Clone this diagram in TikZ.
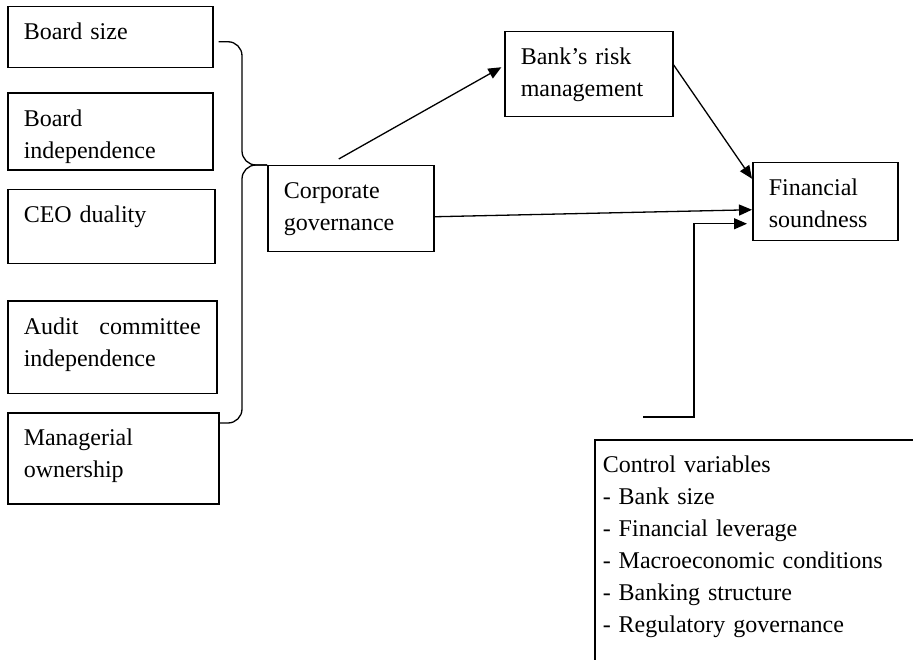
\documentclass[tikz,border=0pt]{standalone}
\usepackage{fontspec}
\setmainfont{Liberation Serif}
\usepackage{tikz}
\usetikzlibrary{arrows.meta,positioning}

\begin{document}
\begin{tikzpicture}[
  x=1pt, y=-1pt,
  font=\fontsize{24}{32}\selectfont,
  box/.style={draw, line width=1.5pt, anchor=north west, align=left, inner xsep=16pt, inner ysep=0pt, text height=33pt},
  arr/.style={-{Triangle[length=13pt,width=11pt]}, line width=1.3pt},
  brace/.style={line width=1.3pt, rounded corners=14pt},
]
\useasboundingbox (0,0) rectangle (913,660);
% governance variables
\node[box, text width=173pt, text depth=28pt] (bsize) at (7,6) {Board size};
\node[box, text width=173pt, text depth=44pt, below=24pt of bsize.south west, anchor=north west] (bindep)
  {Board\\ independence};
\node[box, text width=175pt, text depth=41pt, below=18pt of bindep.south west, anchor=north west] (ceo)
  {CEO duality};
\node[box, text width=177pt, text depth=59pt, below=36pt of ceo.south west, anchor=north west] (audit)
  {Audit \hfill committee\\ independence};
\node[box, text width=179pt, text depth=58pt, below=18pt of audit.south west, anchor=north west] (mown)
  {Managerial\\ ownership};
% model
\node[box, text width=134pt, text depth=53pt] (corp) at (267,165) {Corporate\\ governance};
\node[box, text width=136pt, text depth=52pt] (bank) at (504,31) {Bank’s risk\\ management};
\node[box, text width=113pt, text depth=45pt] (fin) at (752,162) {Financial\\ soundness};
\node[box, inner xsep=8pt, text width=330pt, text depth=200pt] (ctrl) at (594,439)
  {Control variables\\ - Bank size\\ - Financial leverage\\ - Macroeconomic conditions\\ - Banking structure\\ - Regulatory governance};
% brace
\draw[brace] ([xshift=5pt,yshift=-4.5pt]bsize.east) -| ([xshift=-25pt]corp.north west) -- (corp.north west);
\draw[brace] (corp.north west) -- ([xshift=-25pt]corp.north west) |- ([yshift=-11pt]mown.north east);
% paths
\draw[arr, shorten >=3pt] ([xshift=-12pt,yshift=6pt]corp.north) -- ([yshift=8.5pt]bank.west);
\draw[arr] ([yshift=9.5pt]bank.east) -- ([yshift=23pt]fin.west);
\draw[arr] ([yshift=-8pt]corp.east) -- ([yshift=-8pt]fin.west);
\draw[arr, shorten >=5pt] ([xshift=49pt,yshift=22pt]ctrl.north west)
  -| ([xshift=-58pt,yshift=-22pt]fin.west) -- ([yshift=-22pt]fin.west);
\end{tikzpicture}
\end{document}
